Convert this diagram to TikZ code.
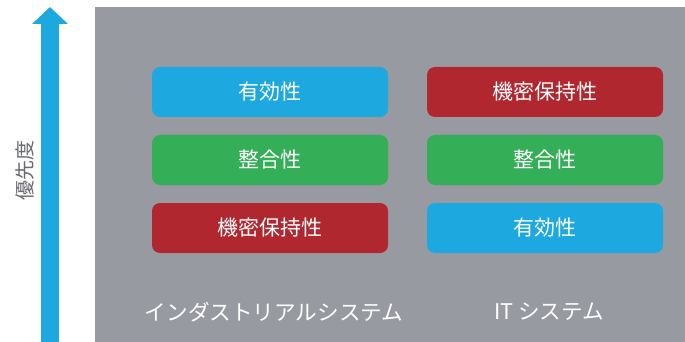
\documentclass[tikz,border=0pt]{standalone}
\usepackage{fontspec}
\setmainfont{Noto Sans CJK JP}
\usetikzlibrary{arrows.meta,positioning}
\definecolor{availcol}{RGB}{29,168,223}
\definecolor{integcol}{RGB}{53,175,87}
\definecolor{confcol}{RGB}{177,39,48}
\definecolor{panelcol}{RGB}{152,154,162}
\definecolor{labelcol}{RGB}{105,106,112}

\begin{document}
\begin{tikzpicture}[
  x=0.5pt, y=-0.5pt, font=\fontsize{10.5}{12}\selectfont,
  prio/.style={rectangle,rounded corners=4pt,minimum width=118pt,minimum height=25pt,
    inner sep=0pt,text=white},
  avail/.style={prio,fill=availcol},
  integ/.style={prio,fill=integcol},
  conf/.style={prio,fill=confcol},
  sysname/.style={text=white,font=\fontsize{10.8}{12}\selectfont},
]
\useasboundingbox (0,0) rectangle (685,342);
% --- the grey panel behind both columns ---
\fill[panelcol] (95,7) rectangle (685,342);

% --- priority axis ---
\coordinate (axisbot) at (50,342);
\coordinate (axistop) at (50,7);
\draw[availcol,line width=9pt,-{Triangle[width=17.5pt,length=8.5pt]}] (axisbot) -- (axistop);
\node[labelcol,rotate=90,font=\fontsize{10}{12}\selectfont] (prio) at (25,170) {優先度};

% --- industrial systems ---
\node[avail] (indavail) at (270,92)  {有効性};
\node[integ] (indinteg) at (270,160) {整合性};
\node[conf]  (indconf)  at (270,228) {機密保持性};
\node[sysname] (indname) at (274,312) {インダストリアルシステム};

% --- IT systems ---
\node[conf]  (itconf)  at (545,92)  {機密保持性};
\node[integ] (itinteg) at (545,160) {整合性};
\node[avail] (itavail) at (545,228) {有効性};
\node[sysname] (itname) at (549,312) {IT システム};
\end{tikzpicture}
\end{document}
